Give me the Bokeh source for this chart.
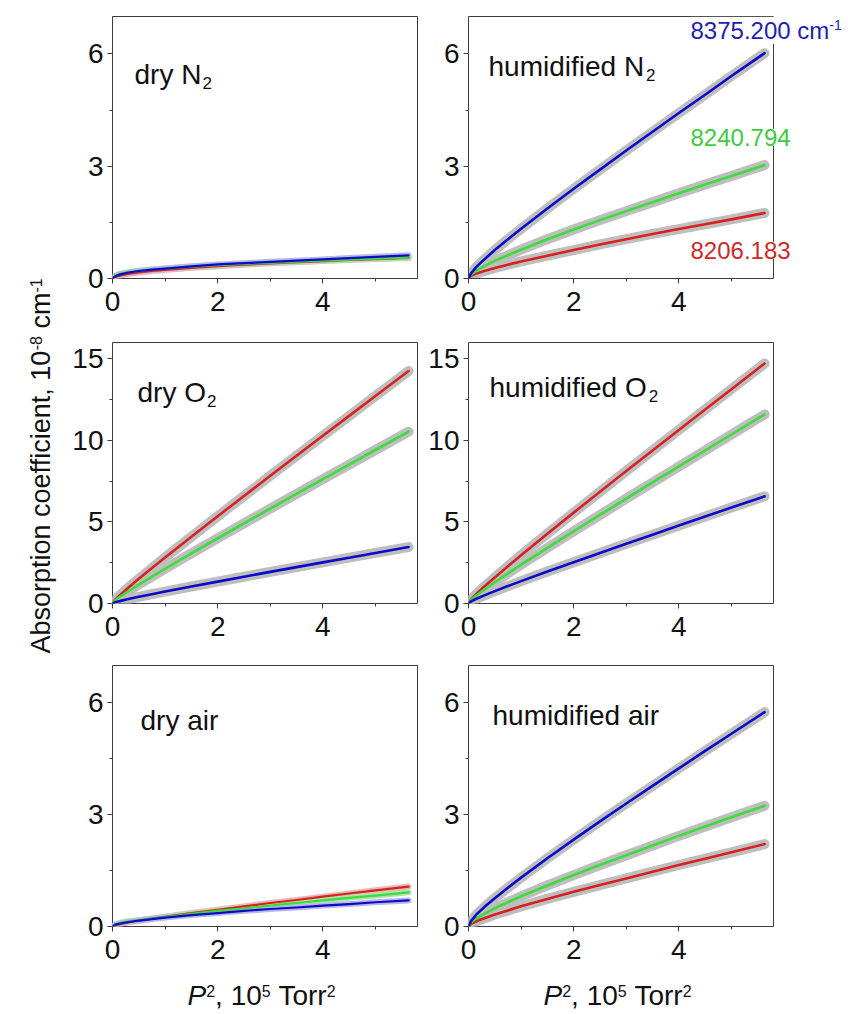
import math
from bokeh.plotting import figure
from bokeh.models import Range1d, FixedTicker, Label, LinearAxis, Span
from bokeh.layouts import row, column
from bokeh.embed import file_html
from bokeh.resources import INLINE

# ---------------- data ----------------
x_p2 = [0, 0.05, 0.15, 0.3, 0.5, 0.75, 1.0, 1.5, 2.0, 2.5, 3.0, 3.5, 4.0, 4.5, 5.0, 5.63]

dryN2_red   = [0, 0.04, 0.08, 0.12, 0.16, 0.20, 0.23, 0.285, 0.33, 0.37, 0.405, 0.435, 0.465, 0.495, 0.52, 0.55]
dryN2_green = [0, 0.08, 0.13, 0.17, 0.21, 0.24, 0.265, 0.315, 0.355, 0.39, 0.42, 0.45, 0.475, 0.505, 0.53, 0.56]
dryN2_blue  = [0, 0.06, 0.11, 0.16, 0.20, 0.235, 0.265, 0.325, 0.375, 0.41, 0.445, 0.475, 0.51, 0.545, 0.58, 0.62]

humN2_red   = [0, 0.07, 0.13, 0.20, 0.28, 0.37, 0.455, 0.61, 0.76, 0.91, 1.05, 1.19, 1.32, 1.45, 1.58, 1.75]
humN2_green = [0, 0.11, 0.21, 0.33, 0.47, 0.62, 0.77, 1.05, 1.31, 1.56, 1.80, 2.04, 2.28, 2.51, 2.74, 3.03]
humN2_blue  = [0, 0.14, 0.31, 0.51, 0.76, 1.05, 1.33, 1.87, 2.40, 2.91, 3.42, 3.92, 4.42, 4.91, 5.41, 6.02]

dryO2_red   = [0, 0.23, 0.54, 0.97, 1.51, 2.17, 2.82, 4.09, 5.35, 6.59, 7.83, 9.06, 10.28, 11.50, 12.72, 14.25]
dryO2_green = [0, 0.19, 0.43, 0.75, 1.16, 1.65, 2.13, 3.07, 4.00, 4.91, 5.82, 6.72, 7.62, 8.52, 9.41, 10.53]
dryO2_blue  = [0, 0.07, 0.16, 0.27, 0.41, 0.57, 0.73, 1.04, 1.34, 1.64, 1.94, 2.23, 2.52, 2.81, 3.10, 3.46]

humO2_red   = [0, 0.25, 0.59, 1.04, 1.60, 2.29, 2.96, 4.28, 5.57, 6.85, 8.12, 9.38, 10.64, 11.89, 13.14, 14.71]
humO2_green = [0, 0.21, 0.49, 0.85, 1.30, 1.85, 2.38, 3.41, 4.43, 5.43, 6.43, 7.42, 8.40, 9.38, 10.36, 11.59]
humO2_blue  = [0, 0.13, 0.29, 0.50, 0.76, 1.07, 1.37, 1.96, 2.53, 3.10, 3.66, 4.22, 4.78, 5.33, 5.88, 6.57]

dryAir_red   = [0, 0.03, 0.07, 0.11, 0.155, 0.21, 0.26, 0.36, 0.45, 0.54, 0.63, 0.71, 0.80, 0.885, 0.97, 1.07]
dryAir_green = [0, 0.06, 0.10, 0.14, 0.17, 0.215, 0.255, 0.34, 0.42, 0.49, 0.56, 0.63, 0.70, 0.77, 0.83, 0.915]
dryAir_blue  = [0, 0.05, 0.08, 0.12, 0.16, 0.20, 0.24, 0.305, 0.36, 0.42, 0.47, 0.51, 0.56, 0.60, 0.65, 0.70]

humAir_red   = [0, 0.07, 0.14, 0.22, 0.32, 0.43, 0.54, 0.74, 0.93, 1.11, 1.29, 1.47, 1.65, 1.82, 1.99, 2.21]
humAir_green = [0, 0.11, 0.22, 0.34, 0.49, 0.65, 0.81, 1.10, 1.38, 1.65, 1.91, 2.17, 2.43, 2.68, 2.93, 3.24]
humAir_blue  = [0, 0.15, 0.32, 0.52, 0.76, 1.04, 1.31, 1.83, 2.33, 2.82, 3.30, 3.77, 4.24, 4.71, 5.17, 5.75]

x_ticks = [0, 2, 4]
x_minor = [1, 3, 5]
y_ticks_small = [0, 3, 6]
y_minor_small = [1.5, 4.5]
y_ticks_o2 = [0, 5, 10, 15]
y_minor_o2 = [2.5, 7.5, 12.5]

freq_labels = ["8375.200 cm", "8240.794", "8206.183"]

# ---------------- style ----------------
FONT = "Liberation Sans"
FRAME = "#3c3c3c"
TXT = "#111111"
RED, GREEN, BLUE = "#D82020", "#3CDC3C", "#0A0AC8"
HALO = "#BEBEBE"
DRY_HALOS = ["#E8B8B8", "#B0E2B0", "#B8B8E8"]
MID = 0.34  # text is anchored at its middle: shift from baseline, in em

W = {' ': 278, ',': 278, '.': 278, '-': 333, 'A': 667, 'N': 722, 'O': 778, 'P': 667,
     'T': 611, 'a': 556, 'b': 556, 'c': 500, 'd': 556, 'e': 556, 'f': 278, 'h': 556,
     'i': 222, 'l': 222, 'm': 833, 'n': 556, 'o': 556, 'p': 556, 'r': 333, 's': 500,
     't': 278, 'u': 556, 'y': 500}


def tw(s, size):
    return sum(W.get(c, 556) for c in s) * size / 1000.0


def split_lead(text, size):
    stripped = text.lstrip(" ")
    return stripped, tw(text[:len(text) - len(stripped)], size)


def rich(p, x, y, segs, dx, dy, color, bg=None):
    """segs: (text, size, rise[, style, gap]); dx, dy: pixel offset of the baseline start."""
    off = 0.0
    for seg in segs:
        text, size, rise = seg[0], seg[1], seg[2]
        style = seg[3] if len(seg) > 3 else "normal"
        gap = seg[4] if len(seg) > 4 else 0
        text, lead = split_lead(text, size)
        off += gap + lead
        kw = {}
        if bg is not None and rise == 0:
            kw = dict(background_fill_color=bg)
        p.add_layout(Label(x=x, y=y, x_units="data", y_units="data",
                           x_offset=dx + off, y_offset=dy + rise + MID * size, text=text,
                           text_font=FONT, text_font_size=f"{size}px",
                           text_font_style=style, text_color=color,
                           text_align="left", text_baseline="middle", **kw))
        off += tw(text, size)


ROWS = [dict(h=328, top=16, bottom=50), dict(h=325, top=14, bottom=50), dict(h=325, top=12, bottom=52)]


def style_axis(ax):
    ax.axis_line_color = None
    ax.major_tick_line_color = FRAME
    ax.minor_tick_line_color = FRAME
    ax.major_tick_in = 0
    ax.major_tick_out = 5
    ax.minor_tick_in = 0
    ax.minor_tick_out = 3
    ax.major_label_text_font = FONT
    ax.major_label_text_font_size = "28px"
    ax.major_label_text_color = TXT


def make_panel(col, r, ymax, yt, ym, reds, greens, blues, dry, label_segs, ldx, ldy, open_right=False):
    width = 366 if col == 0 else 424
    mbr = 7 if col == 0 else 75
    xmax = 5.8
    if open_right:
        # frame reaches the canvas edge so that the wavenumber labels are not clipped
        xmax = 5.8 * (width - 44) / 305.0
        mbr = 0
    p = figure(width=width, height=ROWS[r]["h"], x_range=Range1d(0, xmax), y_range=Range1d(0, ymax),
               toolbar_location=None, output_backend="svg",
               min_border_left=54 if col == 0 else 44, min_border_right=mbr,
               min_border_top=ROWS[r]["top"], min_border_bottom=ROWS[r]["bottom"])
    p.xgrid.visible = False
    p.ygrid.visible = False
    p.xaxis.ticker = FixedTicker(ticks=x_ticks, minor_ticks=x_minor)
    p.yaxis.ticker = FixedTicker(ticks=yt, minor_ticks=ym)
    style_axis(p.xaxis[0])
    style_axis(p.yaxis[0])
    p.xaxis.major_label_standoff = 8
    p.yaxis.major_label_standoff = 4
    if open_right:
        p.outline_line_color = None
        p.yaxis.axis_line_color = FRAME
        p.xaxis.axis_line_color = FRAME
        p.xaxis.bounds = (0, 5.8)
        top = LinearAxis(ticker=FixedTicker(ticks=[]), bounds=(0, 5.8), axis_line_color=FRAME,
                         major_tick_line_color=None, minor_tick_line_color=None,
                         major_label_text_font_size="0px", major_label_standoff=0)
        p.add_layout(top, "above")
        p.add_layout(Span(location=5.8, dimension="height", line_color=FRAME, line_width=1))
    else:
        p.outline_line_color = FRAME
        p.outline_line_width = 1

    ser = [(reds, RED), (greens, GREEN), (blues, BLUE)]
    for i, (ys, c) in enumerate(ser):
        if dry:
            p.line(x_p2, ys, line_color=DRY_HALOS[i], line_width=6, line_cap="round", line_join="round")
        else:
            p.line(x_p2, ys, line_color=HALO, line_width=10, line_cap="round", line_join="round")
    for ys, c in ser:
        p.line(x_p2, ys, line_color=c, line_width=2.6 if not dry else 2.2, line_cap="round", line_join="round")

    rich(p, 0, ymax, label_segs, ldx, -ldy, TXT)
    return p


f11 = make_panel(0, 0, 7, y_ticks_small, y_minor_small, dryN2_red, dryN2_green, dryN2_blue, True,
                 [("dry N", 28, 0), ("2", 17, -4, "normal", 1)], 22, 68)
f12 = make_panel(1, 0, 7, y_ticks_small, y_minor_small, humN2_red, humN2_green, humN2_blue, False,
                 [("humidified N", 28, 0), ("2", 17, -4, "normal", 2)], 20, 60, open_right=True)
f21 = make_panel(0, 1, 16, y_ticks_o2, y_minor_o2, dryO2_red, dryO2_green, dryO2_blue, False,
                 [("dry O", 28, 0), ("2", 17, -4, "normal", 1)], 25, 60)
f22 = make_panel(1, 1, 16, y_ticks_o2, y_minor_o2, humO2_red, humO2_green, humO2_blue, False,
                 [("humidified O", 28, 0), ("2", 17, -4, "normal", 2)], 21, 55)
f31 = make_panel(0, 2, 7, y_ticks_small, y_minor_small, dryAir_red, dryAir_green, dryAir_blue, True,
                 [("dry air", 28, 0)], 28, 65)
f32 = make_panel(1, 2, 7, y_ticks_small, y_minor_small, humAir_red, humAir_green, humAir_blue, False,
                 [("humidified air", 28, 0)], 24, 60)

# wavenumber labels in the humidified N2 panel
rich(f12, 0, 7, [(freq_labels[0], 24, 0), ("-1", 14, 9)], 222, -22, "#1E1EB4", bg="white")
rich(f12, 0, 7, [(freq_labels[1], 24, 0)], 222, -129, "#3CCC3C", bg="white")
rich(f12, 0, 7, [(freq_labels[2], 24, 0)], 222, -242, "#D02828", bg="white")

TOTAL_H = sum(rw["h"] for rw in ROWS) + 34

# x-axis titles strip (below the bottom panels)
strip = figure(width=790, height=34, x_range=Range1d(0, 790), y_range=Range1d(0, 34),
               x_axis_type=None, y_axis_type=None, toolbar_location=None, output_backend="svg",
               min_border=0)
strip.grid.visible = False
strip.outline_line_color = None
xt = [("P", 28, 0, "italic"), ("2", 16, 9), (", 10", 28, 0), ("5", 16, 9), (" Torr", 28, 0),
      ("2", 16, 9, "normal", -3)]
for x0 in (129, 485):
    rich(strip, x0, 7, xt, 0, 0, TXT)

# common y-axis title
tf = figure(width=58, height=TOTAL_H, x_range=Range1d(0, 58), y_range=Range1d(0, TOTAL_H),
            x_axis_type=None, y_axis_type=None, toolbar_location=None, output_backend="svg",
            min_border=0)
tf.grid.visible = False
tf.outline_line_color = None
ysegs = [("Absorption coefficient, 10", 27, 0), ("-8", 16, 9), (" cm", 27, 0), ("-1", 16, 9)]
off = 0.0
base_x = 50
for text, size, rise in ysegs:
    text, lead = split_lead(text, size)
    off += lead
    tf.add_layout(Label(x=base_x - rise - MID * size, y=TOTAL_H - 653 + off, text=text,
                        angle=math.pi / 2, angle_units="rad",
                        text_font=FONT, text_font_size=f"{size}px", text_color=TXT,
                        text_align="left", text_baseline="middle"))
    off += tw(text, size)

layout = row(tf, column(row(f11, f12), row(f21, f22), row(f31, f32), strip))
open("out.html", "w").write(file_html(layout, INLINE))
